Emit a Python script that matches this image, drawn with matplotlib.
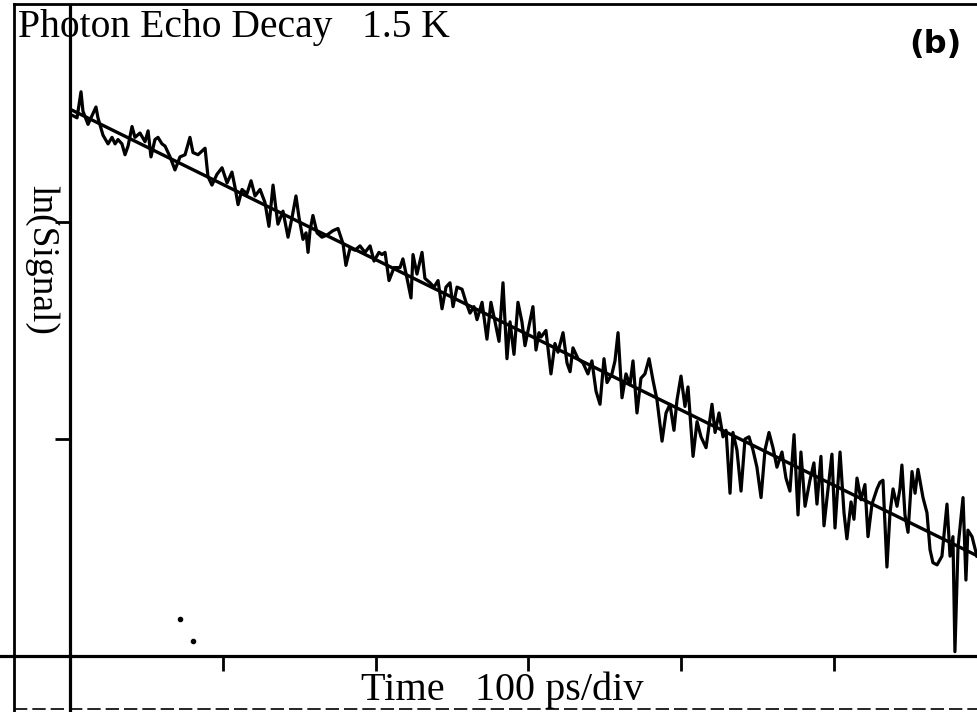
import matplotlib
matplotlib.use("Agg")
import matplotlib.pyplot as plt
from matplotlib.lines import Line2D

# echo signal: time (ps) and ln(signal), arbitrary offset
time_ps = [
    2.0, 4.6, 7.2, 8.5, 11.8, 14.4, 17.0, 18.3, 21.6, 24.9, 27.5, 29.5, 31.4, 34.0,
    36.0, 38.0, 40.6, 42.5, 45.8, 49.1, 51.1, 53.0, 55.6, 57.6, 60.2, 62.2, 65.5,
    68.7, 72.0, 75.3, 78.5, 80.5, 83.8, 88.4, 90.3, 92.9, 96.2, 99.5, 102.8,
    106.0, 108.0, 110.0, 112.6, 115.8, 118.5, 121.1, 124.4, 127.6, 130.2, 132.9,
    134.8, 136.1, 139.4, 142.7, 145.3, 147.9, 149.9, 152.5, 154.5, 155.8, 157.1,
    159.0, 161.7, 164.9, 168.2, 172.1, 175.4, 178.7, 180.6, 183.3, 186.5, 189.8,
    193.1, 196.4, 199.0, 202.2, 204.2, 206.2, 208.8, 212.1, 216.0, 217.9, 220.6,
    223.2, 224.5, 227.1, 230.4, 232.3, 235.6, 238.2, 240.9, 243.5, 246.1, 248.7,
    250.7, 253.3, 256.6, 259.2, 261.8, 264.4, 266.4, 269.7, 272.9, 275.5, 278.2,
    280.8, 283.4, 286.0, 288.0, 290.6, 293.2, 295.8, 297.8, 300.4, 303.0, 305.0,
    307.0, 308.3, 311.5, 314.8, 317.4, 319.4, 322.7, 325.3, 327.3, 329.2, 332.5,
    335.8, 339.0, 341.6, 344.3, 346.9, 349.5, 351.5, 354.7, 356.7, 358.7, 361.3,
    363.9, 366.5, 368.5, 371.1, 373.7, 376.3, 379.0, 381.6, 384.2, 387.5, 390.1,
    392.7, 395.3, 397.3, 399.9, 402.5, 404.5, 407.8, 410.4, 413.0, 416.3, 420.2,
    422.2, 424.8, 427.4, 429.4, 432.0, 433.9, 436.5, 439.2, 441.8, 444.4, 447.0,
    449.6, 452.3, 454.9, 457.5, 460.1, 462.7, 466.0, 468.6, 471.2, 473.9, 476.5,
    478.4, 481.1, 484.3, 486.9, 488.9, 491.5, 493.5, 495.5, 498.7, 500.7, 504.0,
    506.6, 508.5, 511.2, 513.1, 515.1, 517.7, 520.3, 522.3, 524.9, 528.2, 530.1,
    532.1, 534.7, 536.7, 538.7, 541.3, 543.2, 544.5, 546.5, 548.5, 551.1, 553.1,
    555.0, 558.3, 560.9, 562.9, 564.8, 567.5, 570.7, 574.0, 576.0, 577.9, 579.2,
    581.2, 584.5, 586.4, 587.7, 590.4, 593.6,
]
ln_signal = [
    2.49, 2.48, 2.60, 2.51, 2.45, 2.49, 2.53, 2.48, 2.40, 2.36, 2.39, 2.36, 2.38, 2.36,
    2.31, 2.35, 2.44, 2.39, 2.41, 2.37, 2.42, 2.30, 2.38, 2.39, 2.36, 2.35, 2.30,
    2.24, 2.30, 2.31, 2.39, 2.32, 2.31, 2.34, 2.21, 2.17, 2.22, 2.25, 2.18,
    2.23, 2.16, 2.08, 2.15, 2.13, 2.19, 2.12, 2.15, 2.09, 1.98, 2.17,
    2.06, 1.99, 2.05, 1.93, 2.02, 2.12, 2.02, 1.92, 1.95, 1.86, 1.96,
    2.03, 1.95, 1.93, 1.94, 1.96, 1.97, 1.90, 1.80, 1.88, 1.87, 1.89,
    1.86, 1.89, 1.82, 1.86, 1.85, 1.86, 1.73, 1.79, 1.79, 1.83, 1.74,
    1.65, 1.85, 1.76, 1.86, 1.74, 1.72, 1.70, 1.73, 1.60, 1.70, 1.72,
    1.61, 1.70, 1.69, 1.63, 1.58, 1.61, 1.55, 1.63, 1.46, 1.63, 1.54,
    1.45, 1.72, 1.37, 1.54, 1.39, 1.63, 1.54, 1.43, 1.52, 1.61, 1.41,
    1.49, 1.47, 1.50, 1.30, 1.44, 1.40, 1.49, 1.35, 1.31, 1.42, 1.37,
    1.35, 1.30, 1.36, 1.22, 1.16, 1.37, 1.26, 1.30, 1.36, 1.49, 1.19,
    1.30, 1.25, 1.36, 1.12, 1.28, 1.30, 1.37, 1.27, 1.18, 0.99, 1.12,
    1.16, 1.04, 1.18, 1.29, 1.15, 1.24, 0.92, 1.08, 1.01, 0.96, 1.16,
    1.03, 1.12, 1.01, 1.04, 0.75, 1.03, 0.95, 0.76, 1.00, 1.01, 0.95,
    0.87, 0.73, 0.95, 1.03, 0.96, 0.87, 0.94, 0.82, 0.76, 1.02, 0.65,
    0.94, 0.69, 0.81, 0.89, 0.70, 0.92, 0.60, 0.73, 0.93, 0.59, 0.94,
    0.66, 0.54, 0.71, 0.63, 0.82, 0.72, 0.79, 0.55, 0.70, 0.77, 0.80,
    0.81, 0.41, 0.66, 0.77, 0.69, 0.77, 0.88, 0.65, 0.57, 0.85, 0.75,
    0.86, 0.73, 0.66, 0.49, 0.43, 0.42, 0.46, 0.70, 0.46, 0.55, 0.02,
    0.50, 0.73, 0.35, 0.58, 0.55, 0.46,
]

# straight-line fit through the decay (end points)
fit_t = [0.0, 594.3]
fit_ln = [2.52, 0.46]

# specks on the scan
speck_t = [72.0, 80.5]
speck_ln = [0.17, 0.07]

x_ticks = [100, 200, 300, 400, 500]
y_ticks = [1, 2]

fig = plt.figure(figsize=(9.78, 7.12), dpi=100)
ax = fig.add_axes([70 / 978, 56 / 712, 908 / 978, 651 / 712])

ax.plot(time_ps, ln_signal, color="black", lw=2.3, solid_joinstyle="round")
ax.plot(fit_t, fit_ln, color="black", lw=2.4)
ax.plot(speck_t, speck_ln, "o", color="black", ms=3, ls="none")

ax.set_xlim(0, 594.3)
ax.set_ylim(0, 3.0)
ax.set_xticks(x_ticks)
ax.set_yticks(y_ticks)
ax.set_xticklabels([])
ax.set_yticklabels([])
ax.tick_params(direction="out", length=11, width=2.0, color="black")

for side in ["top", "right"]:
    ax.spines[side].set_visible(False)
for side in ["left", "bottom"]:
    ax.spines[side].set_linewidth(2.3)

# frame lines of the original plotter sheet
frame_lw = 2.0
fig.add_artist(Line2D([14 / 978, 14 / 978], [0.0, 0.994], transform=fig.transFigure,
                      color="black", lw=frame_lw))
fig.add_artist(Line2D([14 / 978, 1.0], [0.994, 0.994], transform=fig.transFigure,
                      color="black", lw=frame_lw))
fig.add_artist(Line2D([0.0, 70 / 978], [56 / 712, 56 / 712], transform=fig.transFigure,
                      color="black", lw=2.3))
fig.add_artist(Line2D([70 / 978, 70 / 978], [0.0, 56 / 712], transform=fig.transFigure,
                      color="black", lw=2.3))
fig.add_artist(Line2D([14 / 978, 1.0], [0.004, 0.004], transform=fig.transFigure,
                      color="black", lw=1.2, ls=(0, (8, 3))))

serif = "Liberation Serif"
fig.text(18 / 978, 1 - 9 / 712, "Photon Echo Decay   1.5 K", family=serif,
         fontsize=28.5, ha="left", va="top")
fig.text(935 / 978, 1 - 45 / 712, "(b)", family="DejaVu Sans", fontsize=23,
         fontweight="bold", ha="center", va="center")
fig.text(42 / 978, 1 - 260 / 712, "ln(Signal)", family=serif, fontsize=27,
         rotation=-90, ha="center", va="center")
fig.text(502 / 978, 1 - 690 / 712, "Time   100 ps/div", family=serif, fontsize=29,
         ha="center", va="center")

fig.savefig("out.png", dpi=100, facecolor="white")
